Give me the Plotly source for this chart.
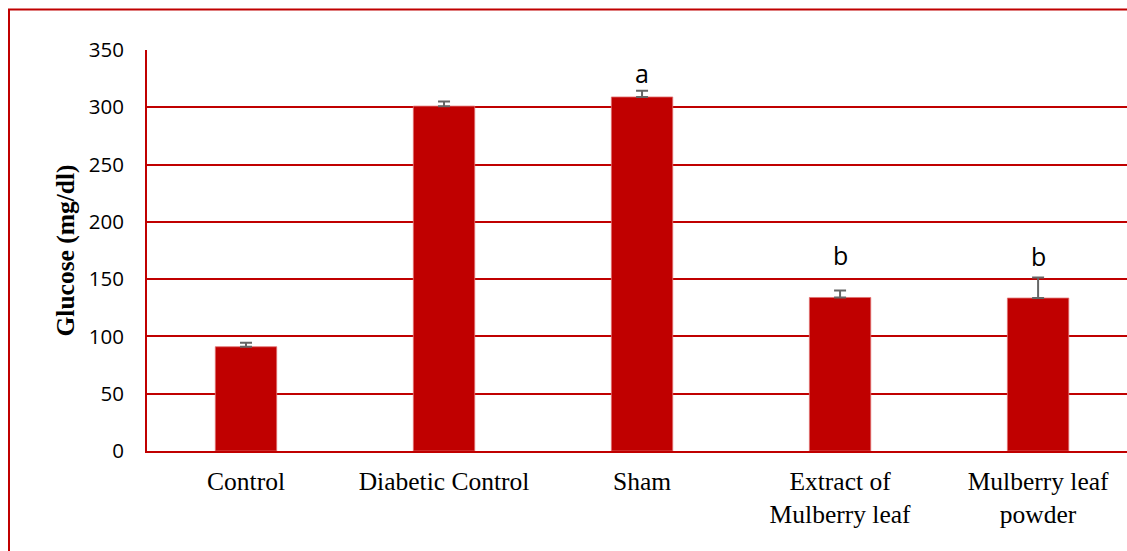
import plotly.graph_objects as go

categories = ["Control", "Diabetic Control", "Sham", "Extract of<br>Mulberry leaf", "Mulberry leaf<br>powder"]
glucose = [91, 301, 309, 134, 133.5]
sem = [3.5, 4, 5.5, 6, 18]
letters = ["", "", "a", "b", "b"]
letter_y = [None, None, 330, 171, 170]

RED = "#C00000"

fig = go.Figure()
fig.add_trace(go.Bar(
    x=categories, y=glucose, width=0.31,
    marker=dict(color=RED, line=dict(color="#E07070", width=0.8)),
    error_y=dict(type="data", array=sem, arrayminus=[0]*len(sem), visible=True,
                 color="#666666", thickness=2, width=6),
))

for c, t, yy in zip(categories, letters, letter_y):
    if t:
        fig.add_annotation(x=c, y=yy, text=t, showarrow=False, xref="x", yref="y",
                           font=dict(family="Open Sans", size=25, color="black"),
                           yanchor="middle")

# y-axis title as annotation
fig.add_annotation(x=(65 - 147) / 980, y=0.5, xref="paper", yref="paper",
                   text="<b>Glucose (mg/dl)</b>", textangle=-90, showarrow=False,
                   font=dict(family="Liberation Serif", size=25.5, color="black"),
                   xanchor="center", yanchor="middle")

# outer frame (right/bottom edges fall outside the view)
fig.add_shape(type="rect", xref="paper", yref="paper",
              x0=(9 - 147) / 980, x1=1.2, y0=-0.6, y1=(451 - 9.5) / 401,
              line=dict(color=RED, width=2), fillcolor="rgba(0,0,0,0)", layer="above")

fig.update_layout(
    width=1127, height=551,
    margin=dict(l=147, r=0, t=50, b=100, pad=0),
    paper_bgcolor="white", plot_bgcolor="white",
    showlegend=False,
)
fig.update_xaxes(
    range=[-0.5, 4.449], showgrid=False, showline=True, linecolor=RED, linewidth=2,
    ticks="", tickfont=dict(family="Liberation Serif", size=25.5, color="black"),
    ticklabelstandoff=6, fixedrange=True,
)
fig.update_yaxes(
    range=[0, 350], dtick=50, showgrid=True, gridcolor=RED, gridwidth=2,
    showline=True, linecolor=RED, linewidth=2, zeroline=False,
    ticks="", tickfont=dict(family="Open Sans", size=20.5, color="black"),
    ticklabelstandoff=17, fixedrange=True,
)

fig.write_html("out.html")
